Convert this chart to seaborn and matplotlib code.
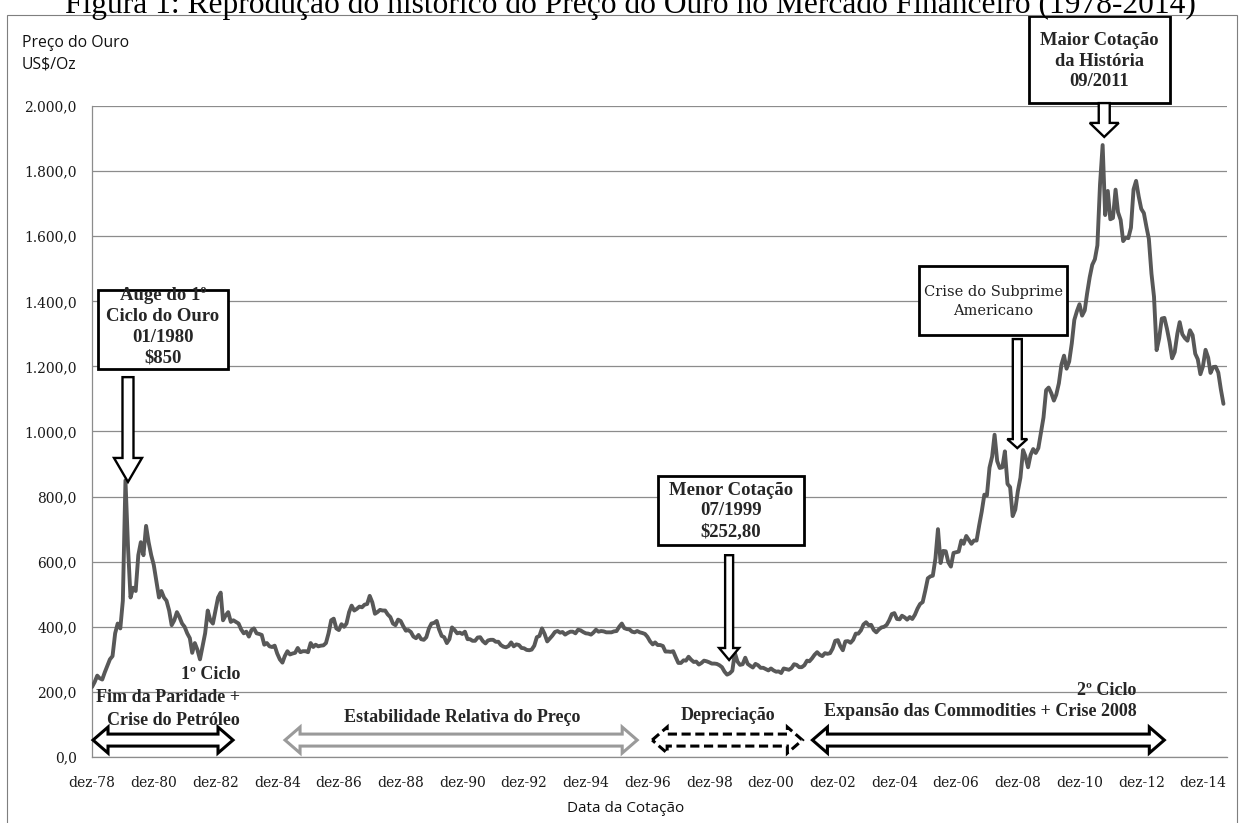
"""Historico do preco do ouro (1978-2015) com anotacoes dos ciclos."""
import matplotlib

matplotlib.use("Agg")
import matplotlib.dates as mdates
import matplotlib.pyplot as plt
import pandas as pd
import seaborn as sns
from matplotlib.patches import Polygon, Rectangle
from matplotlib.ticker import FuncFormatter

# precos mensais (US$/oz), de dez/1978 a ago/2015
inicio_serie = "1978-12-01"
precos = [
    215,
    230, 250, 242, 238, 260, 280, 300, 310, 380, 410, 395, 480,  # 1979
    850, 640, 490, 520, 510, 620, 660, 620, 710, 660, 620, 590,  # 1980
    540, 490, 510, 490, 480, 450, 405, 420, 445, 430, 410, 400,  # 1981
    380, 365, 320, 350, 330, 300, 340, 380, 450, 420, 410, 450,  # 1982
    490, 505, 420, 435, 445, 415, 420, 415, 410, 392, 380, 385,  # 1983
    370, 390, 395, 380, 378, 375, 345, 350, 340, 338, 342, 318,  # 1984
    300, 290, 310, 325, 315, 318, 320, 335, 322, 325, 325, 322,  # 1985
    350, 338, 345, 340, 342, 343, 350, 380, 420, 425, 395, 390,  # 1986
    408, 400, 410, 445, 465, 450, 455, 462, 460, 468, 470, 495,  # 1987
    475, 440, 445, 452, 450, 450, 438, 430, 410, 405, 422, 418,  # 1988
    402, 388, 390, 384, 370, 365, 375, 362, 360, 368, 395, 410,  # 1989
    412, 418, 392, 372, 368, 350, 362, 398, 390, 380, 382, 378,  # 1990
    385, 362, 362, 357, 357, 367, 368, 356, 349, 358, 360, 360,  # 1991
    354, 354, 344, 339, 337, 341, 352, 340, 346, 344, 335, 334,  # 1992
    329, 328, 330, 342, 368, 372, 395, 378, 355, 364, 373, 384,  # 1993
    387, 382, 384, 376, 381, 385, 385, 380, 391, 389, 384, 380,  # 1994
    379, 376, 382, 391, 385, 387, 386, 383, 383, 383, 386, 387,  # 1995
    400, 410, 396, 393, 392, 385, 383, 387, 383, 381, 378, 369,  # 1996
    355, 346, 352, 344, 344, 341, 324, 324, 323, 325, 306, 289,  # 1997
    289, 297, 296, 308, 299, 292, 293, 284, 289, 296, 294, 291,  # 1998
    287, 287, 286, 282, 276, 262, 253, 257, 265, 320, 293, 283,  # 1999
    285, 305, 286, 280, 275, 286, 282, 274, 274, 270, 266, 272,  # 2000
    266, 262, 263, 258, 272, 270, 268, 273, 285, 283, 276, 276,  # 2001
    282, 296, 294, 303, 314, 322, 314, 310, 319, 317, 319, 333,  # 2002
    357, 359, 341, 328, 355, 356, 351, 360, 379, 379, 389, 407,  # 2003
    414, 405, 406, 390, 383, 392, 398, 400, 406, 420, 439, 442,  # 2004
    424, 423, 434, 429, 422, 430, 424, 437, 456, 470, 476, 510,  # 2005
    549, 555, 557, 610, 700, 596, 633, 632, 598, 585, 627, 629,  # 2006
    631, 665, 655, 679, 667, 655, 665, 665, 712, 754, 806, 803,  # 2007
    889, 923, 990, 909, 888, 890, 939, 839, 829, 740, 760, 816,  # 2008
    858, 943, 924, 890, 928, 946, 934, 949, 996, 1043, 1127, 1135,  # 2009
    1118, 1095, 1113, 1148, 1205, 1233, 1193, 1215, 1271, 1343, 1370, 1391,  # 2010
    1356, 1372, 1424, 1474, 1512, 1529, 1572, 1759, 1880, 1665, 1739, 1652,  # 2011
    1656, 1743, 1674, 1650, 1585, 1596, 1594, 1626, 1744, 1770, 1722, 1684,  # 2012
    1671, 1628, 1592, 1485, 1414, 1250, 1286, 1347, 1349, 1316, 1275, 1225,  # 2013
    1244, 1300, 1336, 1299, 1287, 1279, 1311, 1296, 1239, 1222, 1176, 1200,  # 2014
    1251, 1227, 1180, 1198, 1199, 1181, 1130, 1085,  # 2015
]

anos_ticks = list(range(1978, 2015, 2))
rotulos_x = ["dez-78", "dez-80", "dez-82", "dez-84", "dez-86", "dez-88", "dez-90",
             "dez-92", "dez-94", "dez-96", "dez-98", "dez-00", "dez-02", "dez-04",
             "dez-06", "dez-08", "dez-10", "dez-12", "dez-14"]
ticks_y = [0, 200, 400, 600, 800, 1000, 1200, 1400, 1600, 1800, 2000]

titulo = "Figura 1: Reprodução do histórico do Preço do Ouro no Mercado Financeiro (1978-2014)"
texto_auge = "Auge do 1º\nCiclo do Ouro\n01/1980\n$850"
texto_menor = "Menor Cotação\n07/1999\n$252,80"
texto_subprime = "Crise do Subprime\nAmericano"
texto_maior = "Maior Cotação\nda História\n09/2011"
texto_ciclo1 = "1º Ciclo\nFim da Paridade +\nCrise do Petróleo"
texto_estab = "Estabilidade Relativa do Preço"
texto_deprec = "Depreciação"
texto_ciclo2 = "2º Ciclo\nExpansão das Commodities + Crise 2008"

W, H = 1241, 823
DIAS_POR_PX = 365.25 / 30.86
PRECO_POR_PX = 2000 / 651
SERIF = ["Liberation Serif", "DejaVu Serif"]
SERIF_EIXO = ["DejaVu Serif"]


def d(s):
    return mdates.date2num(pd.Timestamp(s))


def seta_baixo(ax, x, y_topo, y_ponta, haste, cabeca, comp, lw=1.7):
    sw = haste * DIAS_POR_PX / 2
    hw = cabeca * DIAS_POR_PX / 2
    hl = comp * PRECO_POR_PX
    pts = [(x - sw, y_topo), (x + sw, y_topo), (x + sw, y_ponta + hl), (x + hw, y_ponta + hl),
           (x, y_ponta), (x - hw, y_ponta + hl), (x - sw, y_ponta + hl)]
    ax.add_patch(Polygon(pts, closed=True, fc="white", ec="black", lw=lw, zorder=6, clip_on=False))


def seta_dupla(ax, x0, x1, y, cor="black", ls="-", lw=2.2):
    hl = 15 * DIAS_POR_PX
    hh = 13 * PRECO_POR_PX
    bh = 6 * PRECO_POR_PX
    pts = [(x0, y), (x0 + hl, y + hh), (x0 + hl, y + bh), (x1 - hl, y + bh), (x1 - hl, y + hh),
           (x1, y), (x1 - hl, y - hh), (x1 - hl, y - bh), (x0 + hl, y - bh), (x0 + hl, y - hh)]
    ax.add_patch(Polygon(pts, closed=True, fc="white", ec=cor, lw=lw, ls=ls, zorder=6,
                         clip_on=False, joinstyle="miter"))


def caixa(ax, x0, x1, y0, y1, lw=2.0):
    ax.add_patch(Rectangle((x0, y0), x1 - x0, y1 - y0, fc="white", ec="black", lw=lw,
                           zorder=6, clip_on=False))


def formatar_preco(v, pos):
    s = f"{v:,.1f}"
    return s.replace(",", "X").replace(".", ",").replace("X", ".")


def plot_preco_ouro(savepath="out.png"):
    datas = pd.date_range(inicio_serie, periods=len(precos), freq="MS")
    df = pd.DataFrame({"data": datas, "preco": precos})

    sns.set_style("white")
    fig = plt.figure(figsize=(W / 100, H / 100), dpi=100)
    ax = fig.add_axes([92 / W, 1 - 757 / H, (1227 - 92) / W, (757 - 106) / H])

    sns.lineplot(data=df, x="data", y="preco", ax=ax, color="#585858", linewidth=2.8, zorder=3)

    ax.set_xlim(d("1978-12-01"), d("2015-09-12"))
    ax.set_ylim(0, 2000)
    ax.set_yticks(ticks_y)
    ax.yaxis.set_major_formatter(FuncFormatter(formatar_preco))
    ax.set_xticks([d(f"{a}-12-01") for a in anos_ticks])
    ax.set_xticklabels(rotulos_x)
    ax.set_xlabel("")
    ax.set_ylabel("")
    ax.grid(axis="y", color="#8c8c8c", linewidth=0.9)
    ax.grid(axis="x", visible=False)
    for lado in ["top", "right"]:
        ax.spines[lado].set_visible(False)
    for lado in ["left", "bottom"]:
        ax.spines[lado].set_color("#8c8c8c")
        ax.spines[lado].set_linewidth(0.9)
    ax.tick_params(axis="y", length=6, width=0.9, color="#8c8c8c", pad=5, labelsize=10,
                   labelcolor="#1a1a1a")
    ax.tick_params(axis="x", length=6, width=0.9, color="#8c8c8c", pad=8, labelsize=10,
                   labelcolor="#1a1a1a")
    for lbl in ax.get_xticklabels() + ax.get_yticklabels():
        lbl.set_family(SERIF_EIXO)

    # caixas e setas de destaque
    bold = dict(family=SERIF, fontweight="bold", ha="center", va="center", zorder=7)
    caixa(ax, d("1979-02-10"), d("1983-04-29"), 1192, 1435)
    ax.text(d("1981-03-21"), 1322, texto_auge, fontsize=13.5, linespacing=1.3, **bold)
    seta_baixo(ax, d("1980-01-31"), 1167, 845, 11, 28, 24)

    caixa(ax, d("1997-04-06"), d("2002-01-01"), 651, 863)
    ax.text(d("1999-08-18"), 756, texto_menor, fontsize=13.5, linespacing=1.3, **bold)
    seta_baixo(ax, d("1999-07-25"), 620, 298, 8, 20, 12)

    caixa(ax, d("2005-09-22"), d("2010-07-10"), 1296, 1508)
    ax.text(d("2008-02-16"), 1399, texto_subprime, fontsize=10.5, linespacing=1.4,
            family=["DejaVu Serif"], ha="center", va="center", zorder=7, color="#222222")
    seta_baixo(ax, d("2008-11-25"), 1284, 949, 9, 20, 9)

    caixa(ax, d("2009-04-15"), d("2013-11-12"), 2009, 2276)
    ax.text(d("2011-07-22"), 2138, texto_maior, fontsize=13.3, linespacing=1.3, **bold)
    seta_baixo(ax, d("2011-09-20"), 2009, 1905, 11, 29, 14)

    # periodos na base do grafico
    seta_dupla(ax, d("1978-12-13"), d("1983-06-27"), 52)
    seta_dupla(ax, d("1985-03-04"), d("1996-08-01"), 52, cor="#9a9a9a")
    seta_dupla(ax, d("1997-01-25"), d("2001-12-08"), 52, ls=(0, (3, 1.5)))
    seta_dupla(ax, d("2002-04-06"), d("2013-08-31"), 52)

    base = dict(family=SERIF, fontweight="bold", va="center", zorder=7, fontsize=13)
    ax.text(d("1983-09-18"), 182, texto_ciclo1, ha="right", multialignment="right",
            linespacing=1.45, **base)
    ax.text(d("1990-11-28"), 120, texto_estab, ha="center", **base)
    ax.text(d("1999-07-14"), 129, texto_deprec, ha="center", **base)
    ax.text(d("2012-10-06"), 171, texto_ciclo2, ha="right", multialignment="right",
            linespacing=1.3, **base)

    # textos e moldura da figura
    sans = ["Open Sans", "DejaVu Sans"]
    fig.text(22 / W, 1 - 43 / H, "Preço do Ouro", family=sans, fontsize=11.3, va="center",
             color="#111111")
    fig.text(22 / W, 1 - 65 / H, "US$/Oz", family=sans, fontsize=11.3, va="center",
             color="#111111")
    fig.text(626 / W, 1 - 808 / H, "Data da Cotação", family=sans, fontsize=11,
             ha="center", va="center", color="#111111")
    fig.text(630 / W, 1 - 13 / H, titulo, family=SERIF, fontsize=22.7, ha="center",
             va="baseline", color="black")
    fig.add_artist(Rectangle((7 / W, -0.1), (1237 - 7) / W, 1 - 15 / H + 0.1,
                             transform=fig.transFigure, fill=False, ec="#7f7f7f", lw=0.8))

    if savepath:
        fig.savefig(savepath, dpi=100)
    plt.close(fig)


plot_preco_ouro()
